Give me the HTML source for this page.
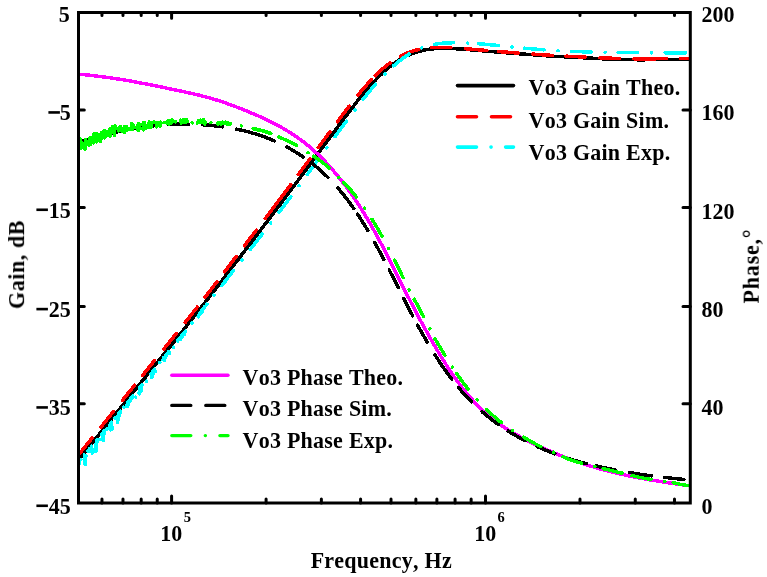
<!DOCTYPE html>
<html><head><meta charset="utf-8"><style>
html,body{margin:0;padding:0;background:#fff;width:767px;height:577px;overflow:hidden}
svg{display:block}
text{font-family:"Liberation Serif",serif;font-kerning:none;letter-spacing:0.25px}
</style></head><body>
<svg width="767" height="577" viewBox="0 0 767 577">
<rect width="767" height="577" fill="#fff"/>
<clipPath id="pc"><rect x="78.5" y="12.5" width="611.8" height="490.5"/></clipPath>
<g clip-path="url(#pc)" fill="none" stroke-linecap="round" stroke-linejoin="round" shape-rendering="crispEdges"><path d="M78.00 460.64L178.00 336.86L209.00 297.54L278.00 207.29L303.00 173.90L343.00 119.83L358.00 100.32L369.00 87.13L374.00 81.61L379.00 76.46L384.00 71.71L388.00 68.23L393.00 64.29L397.00 61.49L402.00 58.40L407.00 55.79L412.00 53.62L418.00 51.58L424.00 50.11L430.00 49.12L436.00 48.55L443.00 48.32L451.00 48.47L462.00 49.11L513.00 53.31L551.00 56.10L603.00 58.79L620.00 59.42L639.00 59.80L669.00 59.55L690.00 59.65" stroke="#000" stroke-width="3.5"/>
<path d="M79.71 453.30L80.00 452.95L81.00 451.72L82.00 450.49L83.00 449.26L84.00 448.03L85.00 446.79L86.00 445.56L87.00 444.33L88.00 443.09L89.00 441.86L90.00 440.62L91.00 439.39L91.99 438.16M101.10 426.87L102.00 425.75L103.00 424.51L104.00 423.27L105.00 422.03L106.00 420.78L107.00 419.54L108.00 418.29L109.00 417.05L110.00 415.81L111.00 414.56L112.00 413.32L113.00 412.07L113.32 411.68M122.40 400.38L123.00 399.63L124.00 398.39L125.00 397.15L126.00 395.91L127.00 394.67L128.00 393.43L129.00 392.19L130.00 390.95L131.00 389.71L132.00 388.48L133.00 387.24L134.00 386.00L134.65 385.20M142.40 375.59L143.00 374.85L144.00 373.60L145.00 372.36L146.00 371.12L147.00 369.88L148.00 368.63L149.00 367.39L150.00 366.15L151.00 364.90L152.00 363.66L153.00 362.42L154.00 361.17L154.62 360.40M163.73 349.12L164.00 348.78L164.00 348.78M164.00 348.78L165.00 347.55L166.00 346.31L167.00 345.07L168.00 343.84L169.00 342.60L170.00 341.37L171.00 340.13L172.00 338.89L173.00 337.65L174.00 336.42L175.00 335.17L176.00 333.93L176.26 333.61M185.31 322.29L186.00 321.42L187.00 320.15L188.00 318.89L189.00 317.63L190.00 316.36L191.00 315.09L192.00 313.82L193.00 312.55L194.00 311.28L195.00 310.01L196.00 308.73L197.00 307.46L197.38 306.97M204.98 297.24L205.00 297.21L206.00 295.93L207.00 294.64L208.00 293.35L209.00 292.06L210.00 290.77L211.00 289.48L212.00 288.19L213.00 286.90L214.00 285.60L215.00 284.31L216.00 283.01L216.91 281.82M224.56 271.85L225.00 271.27L226.00 269.96L227.00 268.65L228.00 267.33L229.00 266.02L230.00 264.70L231.00 263.39L232.00 262.07L233.00 260.75L234.00 259.43L235.00 258.12L236.00 256.80L236.36 256.32M244.46 245.68L245.00 244.97L246.00 243.66L247.00 242.35L248.00 241.05L249.00 239.74L250.00 238.43L251.00 237.12L252.00 235.82L253.00 234.51L254.00 233.20L255.00 231.89L256.00 230.59L256.30 230.19M265.10 218.66L266.00 217.48L267.00 216.16L268.00 214.85L269.00 213.53L270.00 212.21L271.00 210.89L272.00 209.57L273.00 208.25L274.00 206.93L275.00 205.60L276.00 204.28L276.88 203.12M279.15 200.10L280.00 198.97L281.00 197.64L282.00 196.31L283.00 194.98L284.00 193.65L285.00 192.31L286.00 190.98L287.00 189.64L288.00 188.31L289.00 186.97L290.00 185.63L290.85 184.49M298.34 174.44L299.00 173.56L300.00 172.21L301.00 170.87L302.00 169.52L303.00 168.17L304.00 166.83L305.00 165.48L306.00 164.13L307.00 162.78L308.00 161.43L309.00 160.08L309.97 158.78M318.34 147.46L319.00 146.57L320.00 145.22L321.00 143.87L322.00 142.52L323.00 141.16L324.00 139.81L325.00 138.46L326.00 137.11L327.00 135.75L328.00 134.40L329.00 133.05L329.94 131.79M337.35 121.81L338.00 120.93L339.00 119.59L340.00 118.26L341.00 116.93L342.00 115.60L343.00 114.27L344.00 112.95L345.00 111.64L346.00 110.32L347.00 109.02L348.00 107.72L349.00 106.42L349.12 106.26M358.14 94.91L358.81 94.09M358.81 94.09L359.00 93.86L360.00 92.65L361.00 91.45L362.00 90.26L363.00 89.08L364.00 87.92L365.00 86.76L366.00 85.62L367.00 84.49L368.00 83.38L369.00 82.27L370.00 81.18L371.00 80.11L371.65 79.42M375.23 75.73L376.00 74.97L377.00 73.99L378.00 73.02L379.00 72.08L380.00 71.15L381.00 70.24L382.00 69.34L383.00 68.47L384.00 67.61L385.00 66.77L386.00 65.95L387.00 65.15L388.00 64.37L389.00 63.61L389.92 62.93M400.54 56.22L401.00 55.97L402.00 55.46L403.00 54.97L404.00 54.49L405.00 54.03L406.00 53.59L407.00 53.17L408.00 52.77L409.00 52.38L410.00 52.01L411.00 51.65L412.00 51.32L413.00 50.99L414.00 50.69L415.00 50.40L416.00 50.13L417.00 49.87L418.00 49.62L418.76 49.45M431.34 47.61L432.00 47.56L433.00 47.50L434.00 47.44L435.00 47.40L436.00 47.36L437.00 47.34L438.00 47.32L439.00 47.30L440.00 47.30L441.00 47.30L442.00 47.31L443.00 47.33L444.00 47.35L445.00 47.37L446.00 47.40L447.00 47.44L448.00 47.48L449.00 47.53L450.00 47.58L450.83 47.62M465.29 48.68L466.00 48.74L467.00 48.82L467.34 48.85M467.34 48.85L468.00 48.91L469.00 48.99L470.00 49.08L471.00 49.16L472.00 49.25L473.00 49.34L474.00 49.42L475.00 49.51L476.00 49.60L477.00 49.68L478.00 49.77L479.00 49.86L480.00 49.94L481.00 50.03L482.00 50.11L483.00 50.20L484.00 50.28L485.00 50.37L486.00 50.46L486.77 50.52M498.74 51.52L499.00 51.54L500.00 51.63L501.00 51.71L502.00 51.79L503.00 51.87L504.00 51.95L505.00 52.03L506.00 52.11L507.00 52.19L508.00 52.26L509.00 52.34L510.00 52.42L511.00 52.50L512.00 52.57L513.00 52.65L514.00 52.72L515.00 52.80L516.00 52.87L517.00 52.95L518.00 53.02L518.19 53.04M532.65 54.09L532.75 54.10M532.75 54.10L533.00 54.11L534.00 54.18L535.00 54.26L536.00 54.33L537.00 54.40L538.00 54.47L539.00 54.54L540.00 54.61L541.00 54.67L542.00 54.74L543.00 54.81L544.00 54.88L545.00 54.95L546.00 55.01L547.00 55.08L548.00 55.14L549.00 55.21L550.00 55.27L551.00 55.34L552.00 55.40L552.20 55.41M565.95 56.18L566.00 56.18L567.00 56.23L568.00 56.28L569.00 56.33L570.00 56.37L571.00 56.42L572.00 56.47L573.00 56.52L574.00 56.56L575.00 56.61L576.00 56.65L577.00 56.70L578.00 56.74L579.00 56.79L580.00 56.83L581.00 56.88L582.00 56.93L583.00 56.97L584.00 57.02L585.00 57.06L585.43 57.08M599.85 57.77L600.00 57.78L601.00 57.82L602.00 57.87L603.00 57.91L604.00 57.96L605.00 58.00L606.00 58.04L607.00 58.08L608.00 58.12L609.00 58.16L610.00 58.20L611.00 58.24L612.00 58.27L613.00 58.31L614.00 58.34L615.00 58.37L616.00 58.40L617.00 58.44L618.00 58.46L619.00 58.49L619.33 58.50M633.83 58.82L634.00 58.82L635.00 58.84L636.00 58.85L637.00 58.86L638.00 58.87L639.00 58.88L640.00 58.89L641.00 58.90L642.00 58.90L643.00 58.91L644.00 58.91L645.00 58.90L646.00 58.90L646.75 58.90M646.75 58.90L647.00 58.89L648.00 58.89L649.00 58.88L650.00 58.86L651.00 58.85L652.00 58.83L653.00 58.82L654.00 58.80L655.00 58.78L656.00 58.76L657.00 58.75L658.00 58.73L659.00 58.71L660.00 58.70L661.00 58.68L662.00 58.67L663.00 58.66L664.00 58.65L665.00 58.64L666.00 58.63L666.25 58.63M680.75 58.63L681.00 58.63L681.75 58.63M681.75 58.63L682.00 58.64L683.00 58.64L684.00 58.65L685.00 58.66L686.00 58.66L687.00 58.67L688.00 58.68L689.00 58.69L690.00 58.70" stroke="#f00" stroke-width="3.5"/>
<path d="M78.00 466.11L78.00 466.11L78.90 461.34L79.25 464.14M80.75 459.32L80.77 459.39M84.26 455.05L84.30 454.85L85.20 464.77L85.89 455.46M87.86 450.84L87.87 450.76M89.41 451.30L89.70 448.35L90.60 450.66L91.50 446.17L92.40 453.02L92.66 450.46M94.12 451.26L94.13 451.34M95.38 444.64L96.00 451.00L96.90 439.64L97.18 441.34M99.21 439.61L99.23 439.69M101.96 434.98L102.30 433.09L103.20 440.71L104.10 430.90L104.11 430.97M107.06 429.10L107.08 429.02M109.63 425.14L110.40 429.94L111.30 422.14L112.15 428.86M114.78 418.14L114.81 418.06M117.35 420.38L117.60 422.24L118.50 413.34L119.40 416.14L120.30 411.13L120.63 411.70M123.83 407.15L123.84 407.07M126.97 406.88L127.50 402.29L128.40 404.54L129.30 400.08L130.20 400.96L131.10 397.86L132.00 398.33L132.76 396.05M135.69 397.13L135.70 397.05M138.96 392.62L139.20 393.91L140.10 386.74L141.00 391.08L141.89 384.61M146.64 381.31L146.66 381.23M150.96 373.74L151.80 377.71L152.70 371.26L153.60 373.16L154.50 369.04L155.22 371.55M159.80 362.74L159.82 362.66M163.12 359.92L163.50 357.96L164.40 360.72L165.30 355.74L166.20 356.09L167.10 353.52L168.00 353.80L168.90 351.29L169.67 353.40M173.51 347.34L173.53 347.27M177.57 341.10L177.90 340.15L178.80 339.95L179.70 337.91L180.60 339.34L181.50 335.68L182.40 336.64L183.30 333.44L184.20 334.64L185.10 331.20L185.27 331.13M192.01 323.03L192.04 322.96M198.22 316.24L198.60 316.79L199.50 313.23L200.40 313.93L201.30 310.98L202.20 311.80L203.10 308.72L204.00 308.29L204.90 306.46L205.80 305.84L206.70 304.21L207.16 304.43M213.84 295.27L213.87 295.20M221.97 285.53L222.00 285.51L222.90 283.80L223.80 283.33L224.70 281.53L225.60 281.26L226.50 279.25L227.40 278.56L228.30 276.98L229.20 276.13L230.10 274.71L231.00 274.18L231.90 272.43L232.80 271.58L233.46 270.54M241.91 260.06L241.96 259.99M250.24 249.38L250.80 248.79L251.70 247.46L252.60 246.52L253.50 245.17L254.40 244.16L255.30 242.89L256.20 241.80L257.10 240.60L258.00 239.52L258.90 238.31L259.80 237.23L260.70 236.01L261.60 234.90L262.25 234.04M270.71 223.14L270.76 223.08M279.02 212.25L279.60 211.48L280.50 210.29L281.40 209.11L282.30 207.92L283.20 206.73L284.10 205.54L285.00 204.35L285.90 203.16L286.80 201.97L287.70 200.77L288.60 199.58L289.50 198.38L290.40 197.19L290.77 196.69M299.03 185.64L299.08 185.57M307.17 174.62L307.50 174.17L308.40 172.94L309.30 171.71L310.20 170.49L311.10 169.26L312.00 168.03L312.90 166.79L313.80 165.56L314.70 164.33L315.60 163.10L316.50 161.87L317.40 160.64L318.30 159.41L318.69 158.88M326.84 147.75L326.89 147.68M334.95 136.71L335.40 136.10L336.30 134.87L337.20 133.65L338.10 132.43L339.00 131.21L339.90 129.99L340.80 128.76L341.70 127.54L342.60 126.33L343.50 125.11L344.40 123.89L345.30 122.67L346.20 121.46L346.53 121.02M354.80 109.97L354.85 109.91M363.18 99.13L363.30 98.99L364.20 97.85L365.10 96.73L366.00 95.61L366.90 94.50L367.80 93.39L368.70 92.30L369.60 91.21L370.50 90.13L371.40 89.06L372.30 88.00L373.20 86.94L374.10 85.90L375.00 84.86L375.64 84.13M385.03 74.02L385.08 73.96M393.70 65.77L393.90 65.60L394.80 64.81L395.70 64.04L396.60 63.28L397.50 62.54L398.40 61.81L399.30 61.09L400.20 60.38L401.10 59.69L402.00 59.02L402.90 58.35L403.80 57.71L404.70 57.07L405.60 56.45L406.50 55.85L407.40 55.26L408.30 54.68L409.20 54.12L409.28 54.08M421.61 47.93L421.68 47.90M434.42 44.33L435.30 44.17L436.20 44.02L437.10 43.88L438.00 43.75L438.90 43.63L439.80 43.52L440.70 43.42L441.60 43.32L442.50 43.24L443.40 43.16L444.30 43.09L445.20 43.03L446.10 42.98L447.00 42.93L447.90 42.89L448.80 42.85L449.70 42.82L450.60 42.79L451.50 42.78L452.40 42.76L453.30 42.75L453.83 42.75M467.62 43.10L467.70 43.11L467.70 43.11M478.75 43.80L479.40 43.84L480.30 43.91L481.20 43.98L482.10 44.05L483.00 44.13L483.90 44.20L484.80 44.27L485.70 44.35L486.60 44.43L487.50 44.51L488.40 44.59L489.30 44.67L490.20 44.75L491.10 44.83L492.00 44.92L492.90 45.00L493.80 45.09L494.70 45.18L495.60 45.27L496.50 45.36L497.40 45.45L498.17 45.52M511.89 46.95L511.97 46.96M524.74 48.21L525.30 48.26L526.20 48.35L527.10 48.43L528.00 48.51L528.90 48.59L529.80 48.67L530.70 48.75L531.60 48.82L532.50 48.90L533.40 48.98L534.30 49.05L535.20 49.12L536.10 49.20L537.00 49.27L537.90 49.34L538.80 49.41L539.70 49.48L540.60 49.55L541.50 49.61L542.40 49.68L543.30 49.75L544.18 49.81M557.95 50.68L558.03 50.69M571.63 51.35L571.75 51.35M571.75 51.35L572.10 51.37L573.00 51.41L573.90 51.44L574.80 51.48L575.70 51.52L576.60 51.55L577.50 51.59L578.40 51.62L579.30 51.65L580.20 51.69L581.10 51.72L582.00 51.75L582.90 51.78L583.80 51.81L584.70 51.84L585.60 51.87L586.50 51.90L587.40 51.93L588.30 51.95L589.20 51.98L590.10 52.00L591.00 52.03L591.24 52.03M605.03 52.31L605.11 52.31M618.05 52.50L618.90 52.51L619.80 52.52L620.70 52.53L621.60 52.54L622.50 52.56L623.40 52.57L624.30 52.58L625.20 52.59L626.10 52.60L627.00 52.61L627.90 52.62L628.80 52.63L629.70 52.64L630.60 52.64L631.50 52.65L632.40 52.66L633.30 52.67L634.20 52.67L635.10 52.68L636.00 52.69L636.90 52.69L637.55 52.70M651.35 52.79L651.43 52.79M665.05 52.84L665.70 52.84L666.25 52.85M666.25 52.85L666.60 52.85L667.50 52.85L668.40 52.85L669.30 52.85L670.20 52.85L671.10 52.85L672.00 52.85L672.90 52.85L673.80 52.85L674.70 52.85L675.60 52.85L676.50 52.85L677.40 52.85L678.30 52.85L679.20 52.85L680.10 52.86L681.00 52.86L681.90 52.86L682.80 52.87L683.70 52.87L684.60 52.88L685.50 52.88L685.75 52.89" stroke="#0ff" stroke-width="3.5"/>
<path d="M78.00 74.05L93.00 75.62L107.00 77.36L120.00 79.27L134.00 81.67L155.00 85.72L183.00 91.55L198.00 94.92L210.00 98.04L221.00 101.40L233.00 105.62L246.00 110.70L259.00 116.23L269.00 120.86L278.00 125.47L287.00 130.62L295.00 135.75L303.00 141.50L310.00 147.13L317.00 153.41L324.00 160.34L332.00 169.08L339.00 177.42L346.00 186.45L353.00 196.23L359.00 205.23L364.00 213.20L370.00 223.31L376.00 233.99L387.00 254.84L408.00 296.63L418.00 315.93L430.00 337.82L441.00 356.56L447.00 366.13L453.00 375.14L459.00 383.55L464.00 390.05L469.00 396.09L475.00 402.75L480.00 407.83L486.00 413.39L494.00 420.03L503.00 426.55L512.00 432.25L522.00 437.88L534.00 443.96L547.00 449.94L561.00 455.75L575.00 461.00L587.00 465.03L599.00 468.60L613.00 472.26L627.00 475.49L639.00 477.90L652.00 480.17L672.00 483.31L690.00 485.86" stroke="#f0f" stroke-width="3.5"/>
<path d="M78.00 142.82L78.00 142.82L79.00 142.48L80.00 142.14L81.00 141.81L82.00 141.48L83.00 141.16L84.00 140.83L85.00 140.52L86.00 140.20L87.00 139.89L87.93 139.61M101.88 135.65L102.00 135.62L103.00 135.36L104.00 135.10L105.00 134.84L106.00 134.59L107.00 134.34L108.00 134.10L109.00 133.85L110.00 133.61L111.00 133.37L112.00 133.13L113.00 132.90L114.00 132.67L115.00 132.44L116.00 132.21L117.00 131.98L118.00 131.76L119.00 131.54L120.00 131.32L120.85 131.14M135.08 128.38L136.00 128.23L137.00 128.06L138.00 127.90L139.00 127.74L140.00 127.58L141.00 127.43L142.00 127.28L143.00 127.13L144.00 126.99L145.00 126.85L146.00 126.72L147.00 126.59L148.00 126.46L149.00 126.34L150.00 126.21L151.00 126.10L152.00 125.98L153.00 125.87L154.00 125.77L154.39 125.72M168.85 124.57L169.00 124.56L170.00 124.50L171.00 124.45L172.00 124.41L173.00 124.36L174.00 124.33L175.00 124.29L176.00 124.26L177.00 124.23L178.00 124.21L179.00 124.18L180.00 124.17L181.00 124.16L182.00 124.15L183.00 124.14L184.00 124.14L185.00 124.14L186.00 124.15L187.00 124.16L188.00 124.17L188.34 124.18M202.82 124.81L203.00 124.83L204.00 124.90L205.00 124.97L206.00 125.05L207.00 125.13L208.00 125.22L209.00 125.30L210.00 125.39L211.00 125.49L212.00 125.59L213.00 125.69L214.00 125.79L215.00 125.90L216.00 126.01L217.00 126.13L218.00 126.25L219.00 126.37L220.00 126.50L221.00 126.63L222.00 126.76L222.22 126.79M236.52 129.18L237.00 129.28L238.00 129.48L239.00 129.69L240.00 129.90L241.00 130.12L242.00 130.35L243.00 130.58L244.00 130.81L245.00 131.05L246.00 131.30L247.00 131.55L248.00 131.81L249.00 132.07L250.00 132.34L251.00 132.62L252.00 132.90L253.00 133.19L254.00 133.49L255.00 133.79L255.42 133.92M256.17 134.15L257.00 134.42L258.00 134.74L259.00 135.07L260.00 135.40L261.00 135.74L262.00 136.09L263.00 136.45L264.00 136.81L265.00 137.18L266.00 137.55L267.00 137.93L268.00 138.32L269.00 138.72L270.00 139.12L271.00 139.53L272.00 139.95L273.00 140.37L274.00 140.80L274.43 140.99M286.75 146.96L287.00 147.09L288.00 147.63L289.00 148.18L290.00 148.74L291.00 149.31L292.00 149.88L293.00 150.47L294.00 151.06L295.00 151.66L296.00 152.28L297.00 152.90L298.00 153.53L299.00 154.17L300.00 154.82L301.00 155.48L302.00 156.15L303.00 156.83L303.39 157.10M313.37 164.49L314.00 164.99L315.00 165.80L316.00 166.62L317.00 167.45L318.00 168.30L319.00 169.15L320.00 170.02L321.00 170.91L322.00 171.80L323.00 172.71L324.00 173.64L325.00 174.57L326.00 175.52L327.00 176.49L327.95 177.43M337.86 188.01L338.00 188.16L339.00 189.33L340.00 190.50L341.00 191.70L342.00 192.91L342.01 192.93M342.01 192.93L343.00 194.15L344.00 195.40L345.00 196.66L346.00 197.95L347.00 199.25L348.00 200.58L349.00 201.92L350.00 203.28L351.00 204.65L352.00 206.05L353.00 207.47L353.73 208.51M357.47 214.02L358.00 214.82L359.00 216.34L360.00 217.88L361.00 219.45L362.00 221.03L363.00 222.62L364.00 224.24L365.00 225.87L366.00 227.52L367.00 229.19L367.81 230.55M374.65 242.48L375.00 243.10L376.00 244.91L377.00 246.73L378.00 248.57L379.00 250.41L380.00 252.27L381.00 254.14L382.00 256.03L383.00 257.92L383.91 259.65M389.30 270.05L390.00 271.42L391.00 273.38L392.00 275.34L393.00 277.30L394.00 279.27L395.00 281.24L396.00 283.22L397.00 285.19L398.00 287.17L398.14 287.44M403.79 298.60L404.00 299.00L405.00 300.96L406.00 302.92L407.00 304.87L408.00 306.81L409.00 308.75L410.00 310.68L411.00 312.60L412.00 314.51L412.74 315.92M417.73 325.27L418.00 325.76L419.00 327.60L420.00 329.42L421.00 331.22L422.00 333.02L423.00 334.79L424.00 336.56L425.00 338.31L426.00 340.04L427.00 341.76L427.30 342.26M434.83 354.65L435.00 354.93L436.00 356.50L437.00 358.06L438.00 359.60L439.00 361.12L440.00 362.63L440.37 363.18M440.37 363.18L441.00 364.12L442.00 365.59L443.00 367.05L444.00 368.49L445.00 369.91L446.00 371.32L447.00 372.71L448.00 374.08L449.00 375.44L450.00 376.78L451.00 378.11L451.71 379.04M458.42 387.43L459.00 388.13L460.00 389.31L461.00 390.47L462.00 391.62L463.00 392.76L464.00 393.88L465.00 394.98L466.00 396.07L467.00 397.14L468.00 398.20L469.00 399.25L470.00 400.28L471.00 401.30L471.54 401.84M482.14 411.74L482.92 412.42M482.92 412.42L483.00 412.49L484.00 413.34L485.00 414.19L486.00 415.02L487.00 415.85L488.00 416.66L489.00 417.46L490.00 418.26L491.00 419.04L492.00 419.82L493.00 420.58L494.00 421.34L495.00 422.08L496.00 422.82L497.00 423.55L498.00 424.27L498.26 424.45M508.18 431.09L509.00 431.61L510.00 432.22L511.00 432.83L512.00 433.44L513.00 434.03L514.00 434.62L515.00 435.20L516.00 435.77L517.00 436.34L518.00 436.90L519.00 437.45L520.00 438.00L521.00 438.54L522.00 439.07L523.00 439.60L524.00 440.12L525.00 440.64L525.14 440.71M536.89 446.36L537.00 446.41L538.00 446.85L539.00 447.30L540.00 447.74L541.00 448.17L542.00 448.61L543.00 449.03L544.00 449.45L545.00 449.87L546.00 450.29L547.00 450.70L548.00 451.10L549.00 451.51L550.00 451.91L551.00 452.30L552.00 452.69L553.00 453.08L554.00 453.46L554.91 453.81M567.66 458.31L568.00 458.42L569.00 458.75L570.00 459.07L571.00 459.38L572.00 459.69L573.00 460.00L574.00 460.30L575.00 460.60L576.00 460.89L577.00 461.18L578.00 461.46L579.00 461.74L580.00 462.02L581.00 462.30L582.00 462.57L583.00 462.83L584.00 463.09L585.00 463.35L586.00 463.61L586.40 463.71M595.91 465.95L596.00 465.97L597.00 466.18L598.00 466.40L599.00 466.61L600.00 466.82L601.00 467.03L602.00 467.24L603.00 467.44L604.00 467.64L605.00 467.84L606.00 468.04L607.00 468.24L608.00 468.43L609.00 468.63L610.00 468.82L611.00 469.01L612.00 469.21L613.00 469.40L614.00 469.59L615.00 469.78L615.03 469.78M629.29 472.41L630.00 472.54L631.00 472.71L632.00 472.89L632.02 472.89M632.02 472.89L633.00 473.06L634.00 473.23L635.00 473.40L636.00 473.56L637.00 473.73L638.00 473.89L639.00 474.05L640.00 474.20L641.00 474.36L642.00 474.51L643.00 474.66L644.00 474.81L645.00 474.96L646.00 475.10L647.00 475.24L648.00 475.38L649.00 475.52L650.00 475.65L651.00 475.78L651.30 475.82M664.44 477.40L665.00 477.46L666.00 477.57L667.00 477.68L668.00 477.79L669.00 477.90L670.00 478.01L671.00 478.11L672.00 478.22L673.00 478.33L674.00 478.43L675.00 478.54L676.00 478.65L677.00 478.75L678.00 478.86L679.00 478.97L680.00 479.08L681.00 479.19L682.00 479.29L683.00 479.40L683.83 479.50" stroke="#000" stroke-width="3.5"/>
<path d="M78.00 151.47L78.00 151.47L78.02 151.19M78.93 142.72L78.93 142.80M80.01 140.05L80.10 138.79L80.80 148.29L81.50 142.26L81.95 144.87M83.38 145.98L83.39 146.06M84.50 142.97L85.00 149.21L85.70 139.89L86.01 143.76M87.22 141.30L87.23 141.38M88.98 143.39L89.20 145.31L89.90 137.74L90.60 144.38L90.84 141.12M91.82 141.98L91.82 142.06M92.85 136.95L93.40 142.98L94.10 133.64L94.41 137.71M95.44 134.11L95.45 134.03M96.34 141.89L96.90 133.27L97.60 141.00L97.92 137.92M99.11 140.67L99.12 140.59M100.00 135.44L100.40 141.20L101.10 133.06L101.78 138.58M102.87 133.50L102.88 133.58M104.05 130.87L104.60 137.81L105.30 131.10L106.00 136.40L106.06 135.96M107.62 134.14L107.63 134.06M108.99 132.40L109.50 129.04L110.20 136.29L110.90 128.98L111.08 130.45M112.35 126.60L112.36 126.68M113.69 128.57L113.70 128.45L114.40 135.37L115.10 125.47L115.32 127.97M116.67 128.42L116.68 128.50M118.19 128.29L118.60 130.98L119.30 127.17L120.00 130.39L120.70 126.73L121.40 130.92L121.58 129.30M122.97 130.18L122.98 130.10M124.22 132.53L124.90 126.43L125.60 130.77L126.30 126.32L127.00 130.66L127.01 130.58M129.59 128.84L129.60 128.92M131.12 128.82L131.20 129.54L131.90 123.28L132.60 129.18L133.30 124.81L133.59 126.90M135.65 127.44L135.66 127.36M137.12 128.21L137.50 125.22L138.20 130.41L138.90 123.31L139.37 127.41M141.21 128.39L141.22 128.31M142.96 124.56L143.15 123.02L143.88 129.88L144.61 122.67L145.00 126.45M146.73 127.74L146.74 127.82M148.55 126.66L149.17 122.07L149.95 127.67L150.74 122.76L151.42 126.94M153.98 122.02L154.00 122.10M156.47 126.76L156.48 126.81L157.33 122.47L158.19 125.44L159.05 122.41L159.93 125.98L160.81 122.11L161.18 123.19M164.60 122.62L164.62 122.70M167.53 123.43L168.15 120.87L169.11 124.49L170.07 120.39L171.04 123.59L172.03 119.98L172.45 121.74M175.62 121.96L175.64 121.88M180.34 120.01L181.28 123.16L182.35 120.19L183.44 122.39L184.53 119.60L185.64 122.34L186.75 119.79L187.31 121.57M192.11 122.73L192.14 122.80M197.36 123.05L198.47 120.63L199.71 122.53L200.95 120.17L202.20 122.54L203.47 119.80L204.75 124.05L205.41 122.42M210.94 122.62L210.97 122.54M217.68 123.01L218.17 123.92L219.58 122.50L221.01 124.26L222.44 122.19L223.89 123.70L225.35 122.21L226.83 124.27L228.32 122.98L229.82 124.43L230.56 123.90M241.34 125.90L241.40 125.95M253.23 128.58L253.65 128.85L254.65 128.61L255.65 129.42L256.65 129.21L257.65 129.91L258.65 129.76L259.65 130.44L260.65 130.11L261.65 130.75L262.65 130.79L263.65 131.47L264.65 131.19L265.65 131.95L266.65 131.95L267.65 132.42L268.65 132.56L269.65 133.26L270.65 133.17L270.76 133.25M279.00 136.94L279.65 137.32L280.65 137.57L281.65 138.21L282.65 138.48L283.65 139.11L284.65 139.34L285.65 139.97L286.65 140.29L287.65 140.87L288.65 141.15L289.65 141.86L290.65 142.10L291.65 142.84L292.65 143.14L293.65 143.88L294.65 144.28L295.65 144.97L296.36 145.28M308.02 152.60L308.09 152.65M313.45 156.20L313.65 156.35L314.65 156.98L315.65 157.67L316.65 158.32L317.65 159.01L318.65 159.68L319.65 160.38L320.65 161.08L321.65 161.81L322.65 162.55L323.65 163.31L324.65 164.10L325.65 164.91L326.65 165.73L327.65 166.58L328.65 167.44L329.08 167.82M338.92 177.50L338.97 177.56M343.61 182.38L343.65 182.42L344.65 183.47L345.65 184.52L346.65 185.58L347.65 186.65L348.65 187.75L349.65 188.86L350.65 190.00L351.65 191.17L352.65 192.36L353.65 193.58L354.65 194.82L355.65 196.09L356.42 197.07M364.63 208.16L364.65 208.19L364.68 208.23M372.13 219.37L372.65 220.21L373.65 221.86L374.65 223.53L375.65 225.24L376.65 226.96L377.65 228.70L378.65 230.44L379.65 232.20L380.65 233.95L381.65 235.71L381.94 236.23M388.58 248.32L388.62 248.39M394.47 259.99L394.65 260.35L395.65 262.40L396.65 264.45L397.65 266.51L398.65 268.57L399.65 270.62L400.65 272.66L401.65 274.71L402.65 276.74L403.03 277.51M409.23 289.84L409.27 289.91M414.23 299.30L414.65 300.07L415.65 301.90L416.65 303.72L417.65 305.53L418.65 307.35L419.65 309.19L420.65 311.05L421.65 312.93L422.65 314.84L423.49 316.47M429.76 328.76L429.80 328.83M435.04 338.69L435.65 339.78L436.65 341.55L437.65 343.28L438.65 344.99L439.65 346.67L440.65 348.33L441.65 349.99L442.65 351.63L443.65 353.28L444.65 354.92L444.98 355.46M452.31 367.16L452.35 367.22M456.59 373.54L456.65 373.62L457.65 375.06L458.65 376.48L459.65 377.88L460.65 379.27L461.65 380.64L462.65 381.99L463.65 383.33L464.65 384.65L465.65 385.95L466.65 387.24L467.65 388.51L468.20 389.20M477.10 399.75L477.15 399.81M486.63 409.58L486.65 409.60L486.69 409.64M486.66 409.61L487.65 410.55L488.65 411.50L489.65 412.43L490.65 413.36L491.65 414.28L492.65 415.19L493.65 416.09L494.65 416.98L495.65 417.85L496.65 418.72L497.65 419.56L498.65 420.39L499.65 421.21L500.65 422.02L501.27 422.51M512.45 430.58L512.52 430.63M523.81 437.28L524.65 437.76L525.65 438.34L526.65 438.92L527.65 439.50L528.65 440.09L529.65 440.68L530.65 441.26L531.65 441.84L532.65 442.41L533.65 442.97L534.65 443.52L535.65 444.06L536.65 444.59L537.65 445.10L538.65 445.61L539.65 446.11L540.65 446.60L540.88 446.71M553.53 452.21L553.60 452.24M562.97 456.73L563.65 457.05L564.65 457.51L565.65 457.95L566.65 458.38L567.65 458.79L568.65 459.18L569.65 459.57L570.65 459.94L571.65 460.30L572.65 460.64L573.65 460.98L574.65 461.31L575.65 461.62L576.65 461.92L577.65 462.21L578.65 462.48L579.65 462.73L580.65 462.97L581.35 463.13M594.75 466.42L594.83 466.45M603.20 468.64L603.65 468.75L604.65 469.00L605.65 469.24L606.65 469.49L607.65 469.73L608.65 469.98L609.65 470.22L610.65 470.46L611.65 470.70L612.65 470.94L613.65 471.18L614.65 471.42L615.65 471.66L616.65 471.90L617.65 472.13L618.65 472.37L619.65 472.60L620.65 472.83L621.65 473.07L622.16 473.19M632.00 475.54L632.65 475.71L633.65 475.96L634.65 476.20L635.65 476.45L636.65 476.68L637.65 476.91L638.65 477.13L639.65 477.34L640.65 477.55L641.65 477.75L642.65 477.95L643.65 478.14L644.65 478.33L645.65 478.51L646.65 478.68L647.65 478.86L648.65 479.02L649.65 479.18L650.65 479.34L651.10 479.41M664.78 481.25L664.86 481.26M673.21 482.72L673.65 482.81L674.65 483.04L675.65 483.27L676.65 483.51L677.65 483.74L678.65 483.97L679.65 484.18L680.65 484.39L681.65 484.58L682.65 484.75L683.65 484.92L684.65 485.08L685.65 485.23L686.65 485.37L687.65 485.50L688.65 485.63L689.65 485.75L690.65 485.86L691.65 485.96" stroke="#0f0" stroke-width="3.5"/></g>
<rect x="78.5" y="12.5" width="611.80" height="490.50" fill="none" stroke="#000" stroke-width="3"/>
<path d="M101.96 503.0V499.0M101.96 12.5V15.4M122.98 503.0V499.0M122.98 12.5V15.4M141.18 503.0V499.0M141.18 12.5V15.4M157.24 503.0V499.0M157.24 12.5V15.4M171.60 503.0V496.0M171.60 12.5V18.2M266.09 503.0V499.0M266.09 12.5V15.4M321.37 503.0V499.0M321.37 12.5V15.4M360.59 503.0V499.0M360.59 12.5V15.4M391.01 503.0V499.0M391.01 12.5V15.4M415.86 503.0V499.0M415.86 12.5V15.4M436.88 503.0V499.0M436.88 12.5V15.4M455.08 503.0V499.0M455.08 12.5V15.4M471.14 503.0V499.0M471.14 12.5V15.4M485.50 503.0V496.0M485.50 12.5V18.2M579.99 503.0V499.0M579.99 12.5V15.4M635.27 503.0V499.0M635.27 12.5V15.4M674.49 503.0V499.0M674.49 12.5V15.4M78.5 110.00H84.3M690.3 110.00H683.0M78.5 207.50H84.3M690.3 207.50H683.0M78.5 306.50H84.3M690.3 306.50H683.0M78.5 403.80H84.3M690.3 403.80H683.0" stroke="#000" stroke-width="3" stroke-linecap="round" fill="none"/>
<path d="M457.5 85.6H513.5" stroke="#000" stroke-width="3.6" stroke-linecap="round" fill="none"/>
<path d="M457.5 116.8H513.5" stroke="#f00" stroke-width="3.6" stroke-linecap="round" stroke-dasharray="19 15" fill="none"/>
<path d="M457.5 147.1H513.5" stroke="#0ff" stroke-width="3.6" stroke-linecap="round" stroke-dasharray="19 14.5 0.1 14.5" fill="none"/>
<path d="M171.8 375.25H228" stroke="#f0f" stroke-width="3.4" stroke-linecap="round" fill="none"/>
<path d="M171.8 405.4H228" stroke="#000" stroke-width="3.4" stroke-linecap="round" stroke-dasharray="19 15" fill="none"/>
<path d="M171.8 435.6H228" stroke="#0f0" stroke-width="3.4" stroke-linecap="round" stroke-dasharray="19 14.5 0.1 14.5" fill="none"/>
<g fill="#000"><rect x="48.40" y="111.14" width="11.5" height="2.6"/><rect x="36.40" y="208.47" width="11.5" height="2.6"/><rect x="36.40" y="307.81" width="11.5" height="2.6"/><rect x="36.40" y="406.14" width="11.5" height="2.6"/><rect x="36.40" y="504.48" width="11.5" height="2.6"/></g>
<g font-family="Liberation Serif" font-weight="bold" font-size="22" fill="#000" style="will-change:transform">
<text transform="translate(69.70,21.90) scale(1,1.045)" text-anchor="end" style="letter-spacing:0px">5</text>
<text transform="translate(70.80,120.24) scale(1,1.045)" text-anchor="end" style="letter-spacing:0px">5</text>
<text transform="translate(70.80,217.57) scale(1,1.045)" text-anchor="end" style="letter-spacing:0px">15</text>
<text transform="translate(70.80,316.91) scale(1,1.045)" text-anchor="end" style="letter-spacing:0px">25</text>
<text transform="translate(70.80,415.24) scale(1,1.045)" text-anchor="end" style="letter-spacing:0px">35</text>
<text transform="translate(70.80,513.58) scale(1,1.045)" text-anchor="end" style="letter-spacing:0px">45</text>
<text transform="translate(701.60,513.58) scale(1,1.045)" style="letter-spacing:0px">0</text>
<text transform="translate(701.60,415.24) scale(1,1.045)" style="letter-spacing:0px">40</text>
<text transform="translate(701.60,316.91) scale(1,1.045)" style="letter-spacing:0px">80</text>
<text transform="translate(701.60,218.57) scale(1,1.045)" style="letter-spacing:0px">120</text>
<text transform="translate(701.60,120.24) scale(1,1.045)" style="letter-spacing:0px">160</text>
<text transform="translate(701.60,21.90) scale(1,1.045)" style="letter-spacing:0px">200</text>
<text transform="translate(171.30,540.60) scale(1,1.045)" text-anchor="middle" style="letter-spacing:0px">10</text>
<text transform="translate(183.70,522.20) scale(1,1.045)" font-size="14.5" style="letter-spacing:0px">5</text>
<text transform="translate(485.20,540.60) scale(1,1.045)" text-anchor="middle" style="letter-spacing:0px">10</text>
<text transform="translate(497.60,522.20) scale(1,1.045)" font-size="14.5" style="letter-spacing:0px">6</text>
<text transform="translate(381.30,568.10) scale(1,1.045)" text-anchor="middle">Frequency, Hz</text>
<text transform="translate(24.00,264.50) rotate(-90) scale(1,1.045)" text-anchor="middle" style="letter-spacing:0.55px">Gain, dB</text>
<text transform="translate(758.60,266.00) rotate(-90) scale(1,1.045)" text-anchor="middle" style="letter-spacing:0.8px">Phase,°</text>
<text transform="translate(528.50,95.10) scale(1,1.045)">Vo3 Gain Theo.</text>
<text transform="translate(528.50,127.90) scale(1,1.045)">Vo3 Gain Sim.</text>
<text transform="translate(528.50,159.90) scale(1,1.045)">Vo3 Gain Exp.</text>
<text transform="translate(242.50,385.10) scale(1,1.045)">Vo3 Phase Theo.</text>
<text transform="translate(242.50,416.30) scale(1,1.045)">Vo3 Phase Sim.</text>
<text transform="translate(242.50,448.00) scale(1,1.045)">Vo3 Phase Exp.</text>
</g>
</svg>
</body></html>
